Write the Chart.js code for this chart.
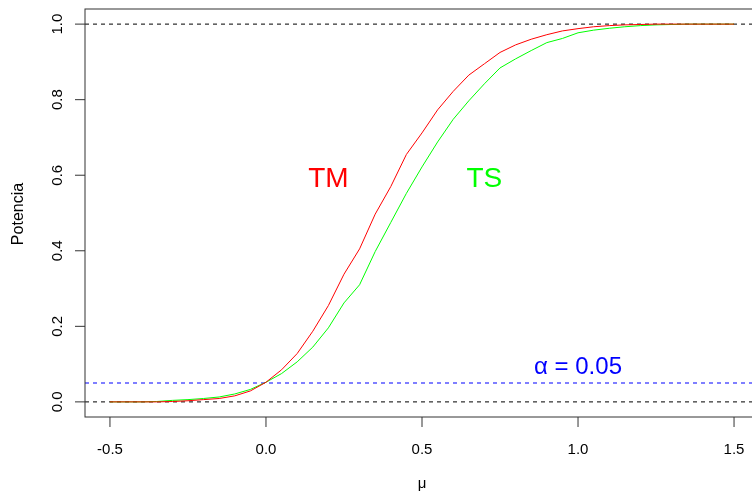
<!DOCTYPE html>
<html>
<head>
<meta charset="utf-8">
<script src="https://cdn.jsdelivr.net/npm/chart.js@4.4.1/dist/chart.umd.min.js"></script>
<style>
  html, body { margin: 0; padding: 0; background: #fff; overflow: hidden; }
  #wrap { position: relative; width: 762px; height: 496px; }
</style>
</head>
<body>
<div id="wrap"><canvas id="c"></canvas></div>
<script>
// Grid of mean shifts (mu)
const muValues = [-0.5, -0.45, -0.4, -0.35, -0.3, -0.25, -0.2, -0.15, -0.1, -0.05,
  0.0, 0.05, 0.1, 0.15, 0.2, 0.25, 0.3, 0.35, 0.4, 0.45,
  0.5, 0.55, 0.6, 0.65, 0.7, 0.75, 0.8, 0.85, 0.9, 0.95,
  1.0, 1.05, 1.1, 1.15, 1.2, 1.25, 1.3, 1.35, 1.4, 1.45, 1.5];

// Empirical power of each test
const powerTM = [0, 0, 0, 0, 0.001, 0.003, 0.006, 0.009, 0.016, 0.029,
  0.052, 0.085, 0.128, 0.187, 0.255, 0.338, 0.405, 0.497, 0.570, 0.655,
  0.712, 0.773, 0.822, 0.865, 0.895, 0.925, 0.945, 0.960, 0.972, 0.982,
  0.988, 0.993, 0.996, 0.998, 0.999, 1, 1, 1, 1, 1, 1];
const powerTS = [0, 0, 0, 0.001, 0.004, 0.006, 0.009, 0.013, 0.021, 0.033,
  0.052, 0.075, 0.106, 0.145, 0.196, 0.262, 0.310, 0.398, 0.475, 0.552,
  0.622, 0.688, 0.748, 0.797, 0.842, 0.884, 0.908, 0.930, 0.951, 0.962,
  0.977, 0.984, 0.989, 0.993, 0.996, 0.998, 0.999, 1, 1, 1, 1];

// Axis ticks
const xTicks = [-0.5, 0, 0.5, 1, 1.5];
const xTickLabels = ["-0.5", "0.0", "0.5", "1.0", "1.5"];
const yTicks = [0, 0.2, 0.4, 0.6, 0.8, 1.0];
const yTickLabels = ["0.0", "0.2", "0.4", "0.6", "0.8", "1.0"];

// Horizontal reference levels
const refLevels = [1, 0.05, 0];
const refColors = ["#000000", "#0000ff", "#000000"];

// In-plot text labels
const seriesNames = ["TM", "TS"];
const nameX = [0.2, 0.7];
const nameY = [0.57, 0.57];
const alphaLabel = "\u03b1 = 0.05";
const alphaX = 1.0;
const alphaY = 0.073;

const FONT = "'Liberation Sans', Arial, sans-serif";

const decor = {
  id: 'decor',
  beforeDatasetsDraw(chart) {
    const { ctx, chartArea: a, scales: { y } } = chart;
    ctx.save();
    ctx.beginPath();
    ctx.rect(a.left, a.top, a.right - a.left, a.bottom - a.top);
    ctx.clip();
    ctx.lineWidth = 1;
    ctx.setLineDash([4, 4]);
    refLevels.forEach((v, i) => {
      const py = y.getPixelForValue(v);
      ctx.strokeStyle = refColors[i];
      ctx.beginPath();
      ctx.moveTo(a.left, py);
      ctx.lineTo(a.right, py);
      ctx.stroke();
    });
    ctx.restore();
  },
  afterDatasetsDraw(chart) {
    const { ctx, chartArea: a, scales: { x, y } } = chart;
    ctx.save();
    // frame
    ctx.strokeStyle = '#333';
    ctx.lineWidth = 1;
    ctx.strokeRect(a.left, a.top, a.right - a.left, a.bottom - a.top);
    const tl = 10;
    // x ticks + labels
    ctx.fillStyle = '#000';
    ctx.font = '15px ' + FONT;
    ctx.textAlign = 'center';
    ctx.textBaseline = 'alphabetic';
    xTicks.forEach((v, i) => {
      const px = x.getPixelForValue(v);
      ctx.beginPath();
      ctx.moveTo(px, a.bottom);
      ctx.lineTo(px, a.bottom + tl);
      ctx.stroke();
      ctx.fillText(xTickLabels[i], px, 454);
    });
    // y ticks + labels (rotated)
    yTicks.forEach((v, i) => {
      const py = y.getPixelForValue(v);
      ctx.beginPath();
      ctx.moveTo(a.left, py);
      ctx.lineTo(a.left - tl, py);
      ctx.stroke();
      ctx.save();
      ctx.translate(62, py);
      ctx.rotate(-Math.PI / 2);
      ctx.fillText(yTickLabels[i], 0, 0);
      ctx.restore();
    });
    // axis titles
    ctx.font = '15px ' + FONT;
    ctx.fillText('\u03bc', x.getPixelForValue(0.5), 488);
    ctx.save();
    ctx.translate(23, 214);
    ctx.rotate(-Math.PI / 2);
    ctx.font = '16px ' + FONT;
    ctx.fillText('Potencia', 0, 0);
    ctx.restore();
    // series names
    ctx.font = '28px ' + FONT;
    const cols = ['#ff0000', '#00ff00'];
    seriesNames.forEach((n, i) => {
      ctx.fillStyle = cols[i];
      ctx.fillText(n, x.getPixelForValue(nameX[i]), y.getPixelForValue(nameY[i]));
    });
    ctx.font = '24px ' + FONT;
    ctx.fillStyle = '#0000ff';
    ctx.fillText(alphaLabel, x.getPixelForValue(alphaX), y.getPixelForValue(alphaY));
    ctx.restore();
  }
};

new Chart(document.getElementById('c'), {
  type: 'line',
  data: {
    labels: muValues,
    datasets: [
      { label: 'TM', data: muValues.map((m, i) => ({ x: m, y: powerTM[i] })),
        borderColor: '#ff0000', borderWidth: 1, pointRadius: 0, tension: 0, fill: false },
      { label: 'TS', data: muValues.map((m, i) => ({ x: m, y: powerTS[i] })),
        borderColor: '#00ff00', borderWidth: 1, pointRadius: 0, tension: 0, fill: false }
    ]
  },
  options: {
    responsive: true,
    maintainAspectRatio: false,
    animation: false,
    devicePixelRatio: 1,
    layout: { padding: { top: 9, right: 3, left: 0, bottom: 0 } },
    plugins: { legend: { display: false }, tooltip: { enabled: false } },
    scales: {
      x: {
        type: 'linear', min: -0.58, max: 1.58,
        grid: { display: false }, border: { display: false },
        ticks: { display: false },
        afterFit(s) { s.height = 79; }
      },
      y: {
        type: 'linear', min: -0.04, max: 1.04,
        grid: { display: false }, border: { display: false },
        ticks: { display: false },
        afterFit(s) { s.width = 85; }
      }
    }
  },
  plugins: [decor]
});
</script>
</body>
</html>
